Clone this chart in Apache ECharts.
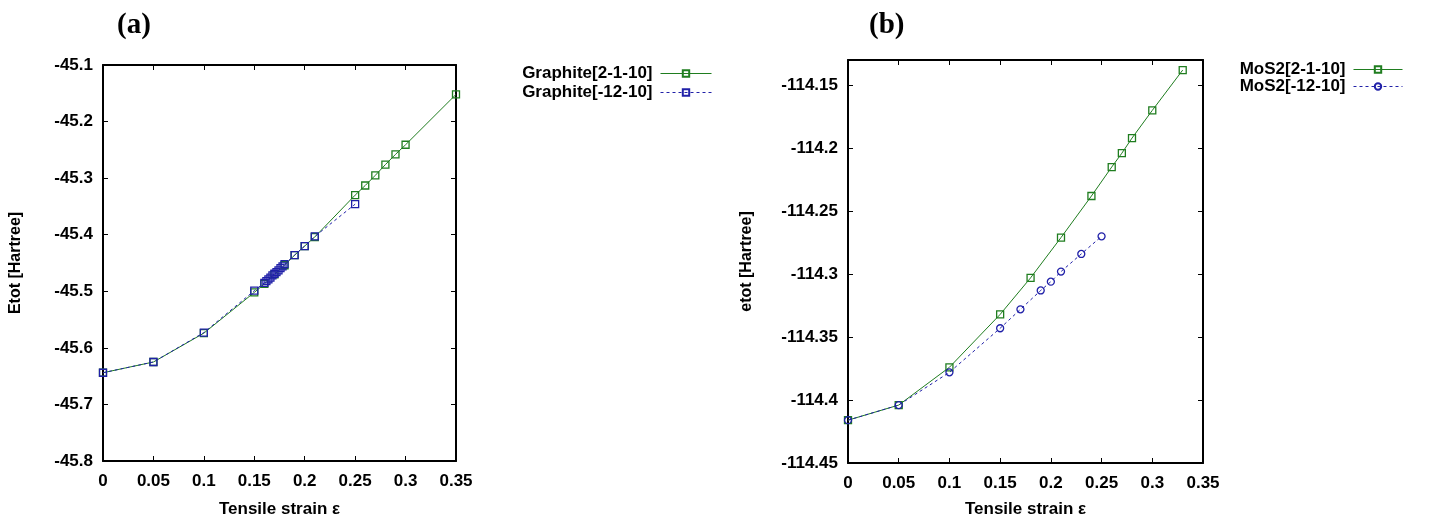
<!DOCTYPE html>
<html>
<head>
<meta charset="utf-8">
<script src="https://cdn.jsdelivr.net/npm/echarts@6/dist/echarts.min.js"></script>
<style>html,body{margin:0;padding:0;background:#fff}#c{width:1429px;height:523px}</style>
</head>
<body>
<div id="c"></div>
<script>
// Panel (a): Graphite
const strainG1 = [0, 0.05, 0.1, 0.15, 0.16, 0.17, 0.18, 0.19, 0.2, 0.21, 0.25, 0.26, 0.27, 0.28, 0.29, 0.3, 0.35];
const etotG1 = [-45.644, -45.625, -45.574, -45.502, -45.487, -45.470, -45.454, -45.436, -45.420, -45.404, -45.330, -45.313, -45.295, -45.276, -45.258, -45.241, -45.152];
const strainG2 = [0, 0.05, 0.1, 0.15, 0.16, 0.162, 0.164, 0.166, 0.168, 0.17, 0.172, 0.174, 0.176, 0.178, 0.18, 0.19, 0.2, 0.21, 0.25];
const etotG2 = [-45.644, -45.625, -45.573, -45.499, -45.485, -45.482, -45.479, -45.476, -45.472, -45.469, -45.466, -45.463, -45.459, -45.456, -45.452, -45.436, -45.420, -45.403, -45.346];
// Panel (b): MoS2
const strainM1 = [0, 0.05, 0.1, 0.15, 0.18, 0.21, 0.24, 0.26, 0.27, 0.28, 0.3, 0.33];
const etotM1 = [-114.416, -114.404, -114.374, -114.332, -114.303, -114.271, -114.238, -114.215, -114.204, -114.192, -114.170, -114.138];
const strainM2 = [0, 0.05, 0.1, 0.15, 0.17, 0.19, 0.2, 0.21, 0.23, 0.25];
const etotM2 = [-114.416, -114.404, -114.378, -114.343, -114.328, -114.313, -114.306, -114.298, -114.284, -114.270];

const xTicksA = [0, 0.35, 0.05];
const yTicksA = [-45.8, -45.1, 0.1];
const yTicksB = [-114.45, -114.13, 0.05];

const names = ['Graphite[2-1-10]', 'Graphite[-12-10]', 'MoS2[2-1-10]', 'MoS2[-12-10]'];
const GREEN = '#1f7d1f', BLUE = '#2020a8';
const FONT = 'Liberation Sans, Arial, sans-serif';

function zip(xs, ys) { return xs.map((x, i) => [x, ys[i]]); }

const chart = echarts.init(document.getElementById('c'), null, {renderer: 'canvas'});

function xAx(grid, bottom, name, gap) {
  return {
    type: 'value', gridIndex: grid, position: bottom ? 'bottom' : 'top',
    min: xTicksA[0], max: xTicksA[1], interval: xTicksA[2],
    axisLine: {show: true, onZero: false, lineStyle: {color: '#000', width: 2}},
    axisTick: {show: true, inside: true, length: 5, lineStyle: {color: '#000', width: 1}},
    axisLabel: {show: bottom, color: '#000', fontFamily: FONT, fontWeight: 'bold', fontSize: 17, margin: 12},
    splitLine: {show: false},
    name: bottom ? name : '', nameLocation: 'middle', nameGap: gap,
    nameTextStyle: {color: '#000', fontFamily: FONT, fontWeight: 'bold', fontSize: 17}
  };
}
function yAx(grid, left, t, name, gap) {
  return {
    type: 'value', gridIndex: grid, position: left ? 'left' : 'right',
    min: t[0], max: t[1], interval: t[2],
    axisLine: {show: true, onZero: false, lineStyle: {color: '#000', width: 2}},
    axisTick: {show: true, inside: true, length: 5, lineStyle: {color: '#000', width: 1}},
    axisLabel: {show: left, color: '#000', fontFamily: FONT, fontWeight: 'bold', fontSize: 17, margin: 10, showMaxLabel: t === yTicksA},
    splitLine: {show: false},
    name: left ? name : '', nameLocation: 'middle', nameGap: gap,
    nameTextStyle: {color: '#000', fontFamily: FONT, fontWeight: 'bold', fontSize: 16}
  };
}
function ser(name, xi, yi, data, color, symbol, dashed) {
  return {
    name: name, type: 'line', xAxisIndex: xi, yAxisIndex: yi, data: data,
    symbol: symbol, symbolSize: 7, showAllSymbol: true,
    lineStyle: {color: color, width: 1, type: dashed ? [3, 3] : 'solid'},
    itemStyle: {color: 'rgba(255,255,255,0)', borderColor: color, borderWidth: 1.3},
    emphasis: {disabled: true}, animation: false, z: dashed ? 3 : 2
  };
}

chart.setOption({
  backgroundColor: '#fff',
  animation: false,
  title: [
    {text: '(a)', left: 112, top: 6, textStyle: {fontFamily: 'Liberation Serif, Times New Roman, serif', fontWeight: 'bold', fontSize: 29, color: '#000'}},
    {text: '(b)', left: 864, top: 6, textStyle: {fontFamily: 'Liberation Serif, Times New Roman, serif', fontWeight: 'bold', fontSize: 29, color: '#000'}}
  ],
  grid: [
    {left: 103, top: 65, width: 353, height: 403},
    {left: 848, top: 60, width: 355, height: 405}
  ],
  xAxis: [
    xAx(0, true, 'Tensile strain ε', 40), xAx(0, false),
    xAx(1, true, 'Tensile strain ε', 38), xAx(1, false)
  ],
  yAxis: [
    yAx(0, true, yTicksA, 'Etot [Hartree]', 79), yAx(0, false, yTicksA),
    yAx(1, true, yTicksB, 'etot [Hartree]', 93), yAx(1, false, yTicksB)
  ],
  legend: [
    {data: [names[0], names[1]], orient: 'vertical', right: 712, top: 60, align: 'right',
     itemWidth: 51, itemHeight: 8, itemGap: 2, selectedMode: false,
     lineStyle: {width: 1},
     textStyle: {fontFamily: FONT, fontWeight: 'bold', fontSize: 17, lineHeight: 17, color: '#000', padding: [0, 3, 0, 0]}},
    {data: [names[2], names[3]], orient: 'vertical', right: 21, top: 56, align: 'right',
     itemWidth: 49, itemHeight: 8, itemGap: 0, selectedMode: false,
     lineStyle: {width: 1},
     textStyle: {fontFamily: FONT, fontWeight: 'bold', fontSize: 17, lineHeight: 16, color: '#000', padding: [0, 3, 0, 0]}}
  ],
  series: [
    ser(names[0], 0, 0, zip(strainG1, etotG1), GREEN, 'rect', false),
    ser(names[1], 0, 0, zip(strainG2, etotG2), BLUE, 'rect', true),
    ser(names[2], 2, 2, zip(strainM1, etotM1), GREEN, 'rect', false),
    ser(names[3], 2, 2, zip(strainM2, etotM2), BLUE, 'circle', true)
  ]
});
</script>
</body>
</html>
